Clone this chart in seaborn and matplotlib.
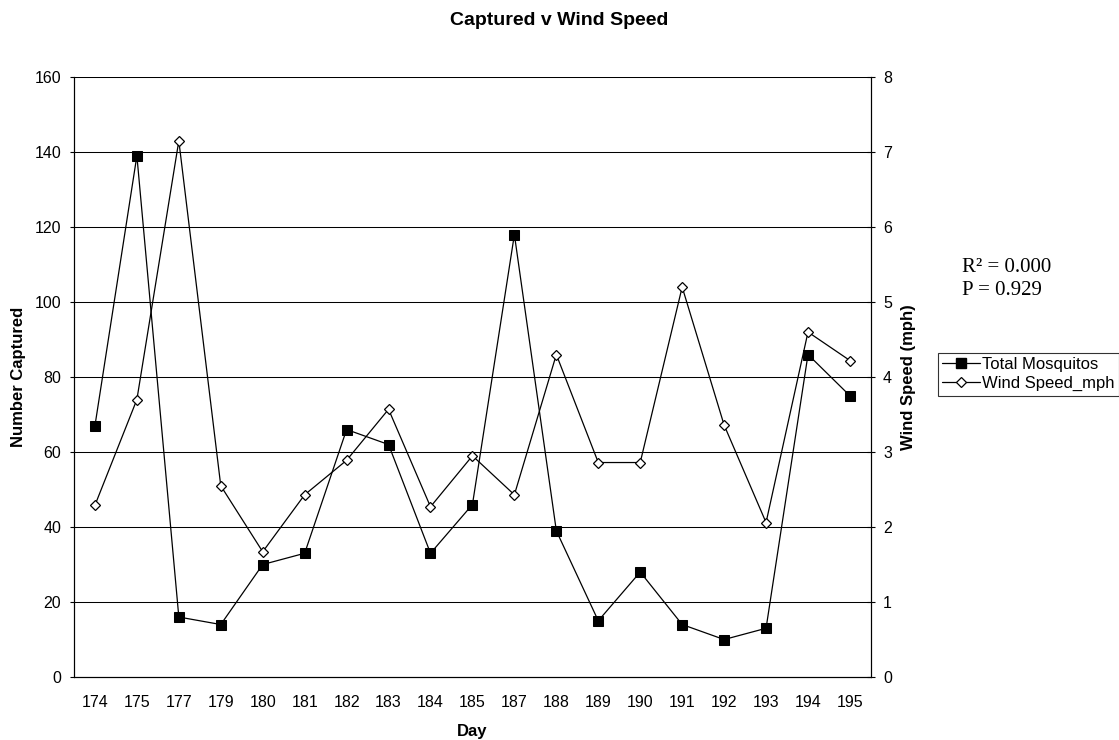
"""
 Captured v Wind Speed
"""
import pandas as pd
import numpy as np
import matplotlib.pyplot as plt
import seaborn as sns
from matplotlib.lines import Line2D

sns.set_style('white')
plt.rcParams['font.family'] = ['Liberation Sans', 'DejaVu Sans']
plt.rcParams.update({'text.color': 'black', 'axes.labelcolor': 'black',
                     'xtick.color': 'black', 'ytick.color': 'black'})

days = ['174', '175', '177', '179', '180', '181', '182', '183', '184', '185',
        '187', '188', '189', '190', '191', '192', '193', '194', '195']
mosquitos = [67, 139, 16, 14, 30, 33, 66, 62, 33, 46,
             118, 39, 15, 28, 14, 10, 13, 86, 75]
wind_mph = [2.29, 3.70, 7.15, 2.55, 1.67, 2.43, 2.89, 3.57, 2.27, 2.95,
            2.43, 4.30, 2.86, 2.86, 5.20, 3.36, 2.06, 4.60, 4.22]

df = pd.DataFrame({'pos': np.arange(len(days)), 'day': days,
                   'Total Mosquitos': mosquitos, 'Wind Speed_mph': wind_mph})

fs = 11.5
fig = plt.figure(figsize=(11.19, 7.40), dpi=100)
ax = fig.add_axes([0.0661, 0.0851, 0.7122, 0.8108])
ax2 = ax.twinx()

sns.lineplot(data=df, x='pos', y='Total Mosquitos', ax=ax, color='black', lw=0.9,
             marker='s', markersize=6.5, markerfacecolor='black',
             markeredgecolor='black', sort=False, zorder=4)
sns.lineplot(data=df, x='pos', y='Wind Speed_mph', ax=ax2, color='black', lw=0.9,
             marker='D', markersize=5, markerfacecolor='white',
             markeredgecolor='black', markeredgewidth=0.9, sort=False, zorder=4)

ax.set_xlim(-0.5, len(days) - 0.5)
ax.set_ylim(0, 160)
ax2.set_ylim(0, 8)
ax.set_yticks(np.arange(0, 161, 20))
ax2.set_yticks(np.arange(0, 9, 1))
ax.set_xticks(np.arange(len(days)))
ax.set_xticklabels(days)
ax.set_xticks(np.arange(len(days) + 1) - 0.5, minor=True)
ax.tick_params(axis='x', which='major', length=0, labelsize=fs, pad=13)
ax.tick_params(axis='x', which='minor', length=3.5, width=0.8, direction='out', color='black')
ax.tick_params(axis='y', length=3.1, width=0.8, direction='out', color='black',
               labelsize=fs, left=True, pad=6)
ax2.tick_params(axis='y', length=6, width=0.8, direction='inout', color='black',
                labelsize=fs, right=True, pad=5.7)

ax.grid(axis='y', color='black', lw=0.75)
ax.grid(axis='x', visible=False)
ax2.grid(False)
ax.yaxis.get_gridlines()[0].set_visible(False)

for a in (ax, ax2):
    for s in ('left', 'bottom', 'right'):
        a.spines[s].set_color('black')
        a.spines[s].set_linewidth(0.8)
    a.spines['top'].set_visible(False)

ax.set_xlabel('Day', fontsize=12, fontweight='bold')
ax.xaxis.set_label_coords(0.5, -0.078)
ax.set_ylabel('Number Captured', fontsize=12, fontweight='bold')
ax.yaxis.set_label_coords(-0.060, 0.5)
ax2.set_ylabel('Wind Speed (mph)', fontsize=12, fontweight='bold')
ax2.yaxis.set_label_coords(1.0376, 0.5)

fig.text(0.5, 0.9662, 'Captured v Wind Speed', ha='center', va='baseline',
         fontsize=14, fontweight='bold')

serif = ['Liberation Serif', 'DejaVu Serif']
fig.text(0.8597, 0.6328, 'R² = 0.000', fontsize=15, family=serif, va='baseline')
fig.text(0.8597, 0.6014, 'P = 0.929', fontsize=15, family=serif, va='baseline')

handles = [
    Line2D([], [], color='black', lw=0.9, marker='s', markersize=6.5,
           markerfacecolor='black', markeredgecolor='black'),
    Line2D([], [], color='black', lw=0.9, marker='D', markersize=5,
           markerfacecolor='white', markeredgecolor='black', markeredgewidth=0.9),
]
leg = fig.legend(handles, ['Total Mosquitos', 'Wind Speed_mph'],
                 loc='upper left', bbox_to_anchor=(0.8382, 0.5230),
                 fontsize=12, frameon=True, fancybox=False, handlelength=2.27,
                 handletextpad=0.15, borderpad=0.25, labelspacing=0.25,
                 borderaxespad=0)
leg.get_frame().set_edgecolor('black')
leg.get_frame().set_linewidth(0.8)

fig.savefig('out.png', dpi=100)
